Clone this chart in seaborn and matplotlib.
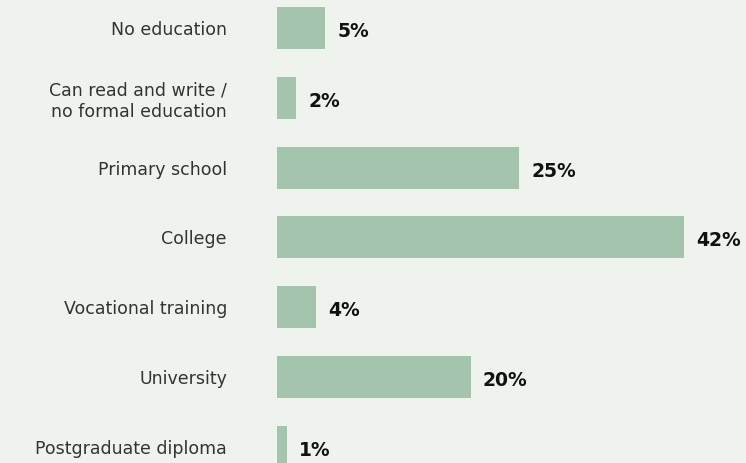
import pandas as pd
import seaborn as sns
from matplotlib import pyplot as plt

categories = ["No education", "Can read and write /\nno formal education", "Primary school",
              "College", "Vocational training", "University", "Postgraduate diploma"]
shares = [5, 2, 25, 42, 4, 20, 1]

BG = "#eef3ee"
BAR = "#a5c4ad"


def main():
    df = pd.DataFrame({"education": categories, "share": shares})
    sns.set_theme(style="white")
    plt.rcParams["font.family"] = ["DejaVu Sans"]

    fig = plt.figure(figsize=(7.46, 4.63), dpi=100, facecolor=BG)
    ax = fig.add_axes([277 / 746, 0, 469 / 746, 1])
    ax.set_facecolor(BG)
    sns.barplot(data=df, x="share", y="education", orient="h", color=BAR,
                saturation=1, width=0.6, linewidth=0, ax=ax)

    step = 69.8
    ax.set_ylim((463 - 28) / step, -28 / step)
    ax.set_xlim(0, 469 / 9.69)

    for i, v in enumerate(shares):
        ax.text(v + 12 / 9.69, i + 0.05, f"{v}%", ha="left", va="center",
                fontsize=13.5, fontweight="bold", color="#111111")

    ax.set_xlabel("")
    ax.set_ylabel("")
    ax.set_xticks([])
    ax.tick_params(axis="y", length=0, pad=36, labelsize=12.5, labelcolor="#333333")
    for lbl in ax.get_yticklabels():
        lbl.set_horizontalalignment("right")
        lbl.set_multialignment("right")
        lbl.set_linespacing(1.2)
    sns.despine(ax=ax, left=True, bottom=True)

    fig.savefig("out.png", dpi=100, facecolor=BG)


if __name__ == "__main__":
    main()
